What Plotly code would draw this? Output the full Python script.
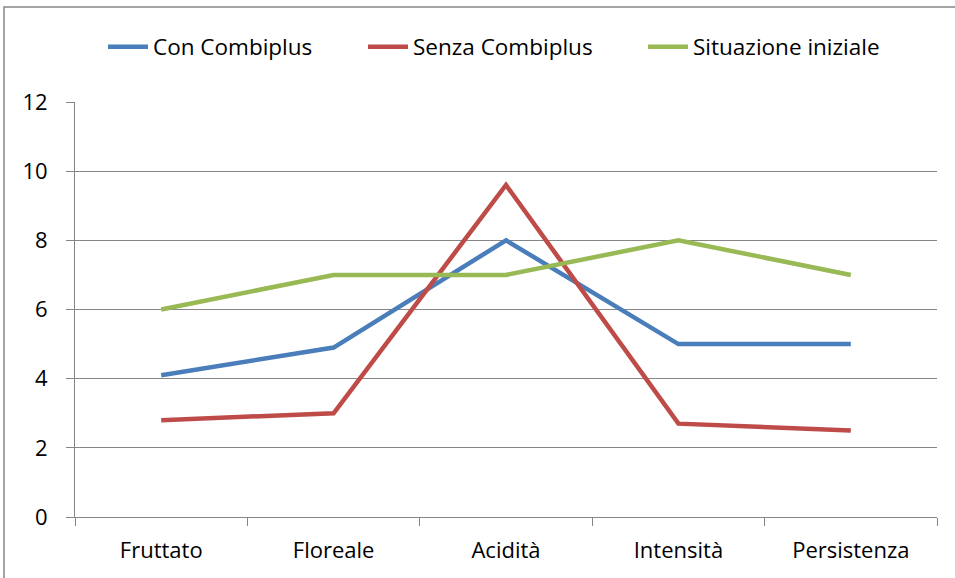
import plotly.graph_objects as go

categories = ["Fruttato", "Floreale", "Acidità", "Intensità", "Persistenza"]
con_combiplus = [4.1, 4.9, 8, 5, 5]
senza_combiplus = [2.8, 3.0, 9.6, 2.7, 2.5]
situazione_iniziale = [6, 7, 7, 8, 7]
y_ticks = [0, 2, 4, 6, 8, 10, 12]

FONT = "Open Sans"
GRAY = "#868686"
L, T, W, H = 75, 102, 862, 415

def px_x(p):
    return (p - L) / W

def px_y(p):
    return (T + H - p) / H

series = [
    ("Con Combiplus", con_combiplus, "#4A7EBB", "legend", 95),
    ("Senza Combiplus", senza_combiplus, "#BE4B48", "legend2", 355),
    ("Situazione iniziale", situazione_iniziale, "#98B954", "legend3", 635),
]

fig = go.Figure()
legends = {}
for name, vals, color, lg, lx in series:
    fig.add_trace(go.Scatter(x=categories, y=vals, name=name, mode="lines",
                             legend=lg, line=dict(color=color, width=4.5)))
    legends[lg] = dict(orientation="h", x=px_x(lx + 8), xanchor="left",
                       y=px_y(47), yanchor="middle", font=dict(size=22.5),
                       itemwidth=40, bgcolor="rgba(0,0,0,0)")

fig.update_layout(
    width=955, height=578,
    margin=dict(l=L, r=955 - L - W, t=T, b=578 - T - H),
    paper_bgcolor="white", plot_bgcolor="white",
    font=dict(family=FONT, size=22, color="black"),
    showlegend=True,
    xaxis=dict(type="category", range=[-0.5, 4.5], tickson="boundaries",
               ticks="outside", ticklen=8, tickcolor=GRAY, showline=True,
               linecolor=GRAY, linewidth=1, showgrid=False, zeroline=False,
               ticklabelstandoff=14, tickfont=dict(size=22)),
    yaxis=dict(range=[0, 12], tickvals=y_ticks, ticks="outside", ticklen=8,
               tickcolor=GRAY, showline=True, linecolor=GRAY, linewidth=1,
               showgrid=True, gridcolor=GRAY, gridwidth=1, zeroline=False,
               ticklabelstandoff=14, tickfont=dict(size=22)),
    shapes=[dict(type="rect", xref="paper", yref="paper",
                 x0=px_x(4), x1=1.5, y0=-0.5, y1=px_y(7),
                 line=dict(color=GRAY, width=1.5), layer="below")],
    **legends,
)

fig.write_html("out.html", config={"displayModeBar": False},
               post_script="document.body.style.margin='0';")
